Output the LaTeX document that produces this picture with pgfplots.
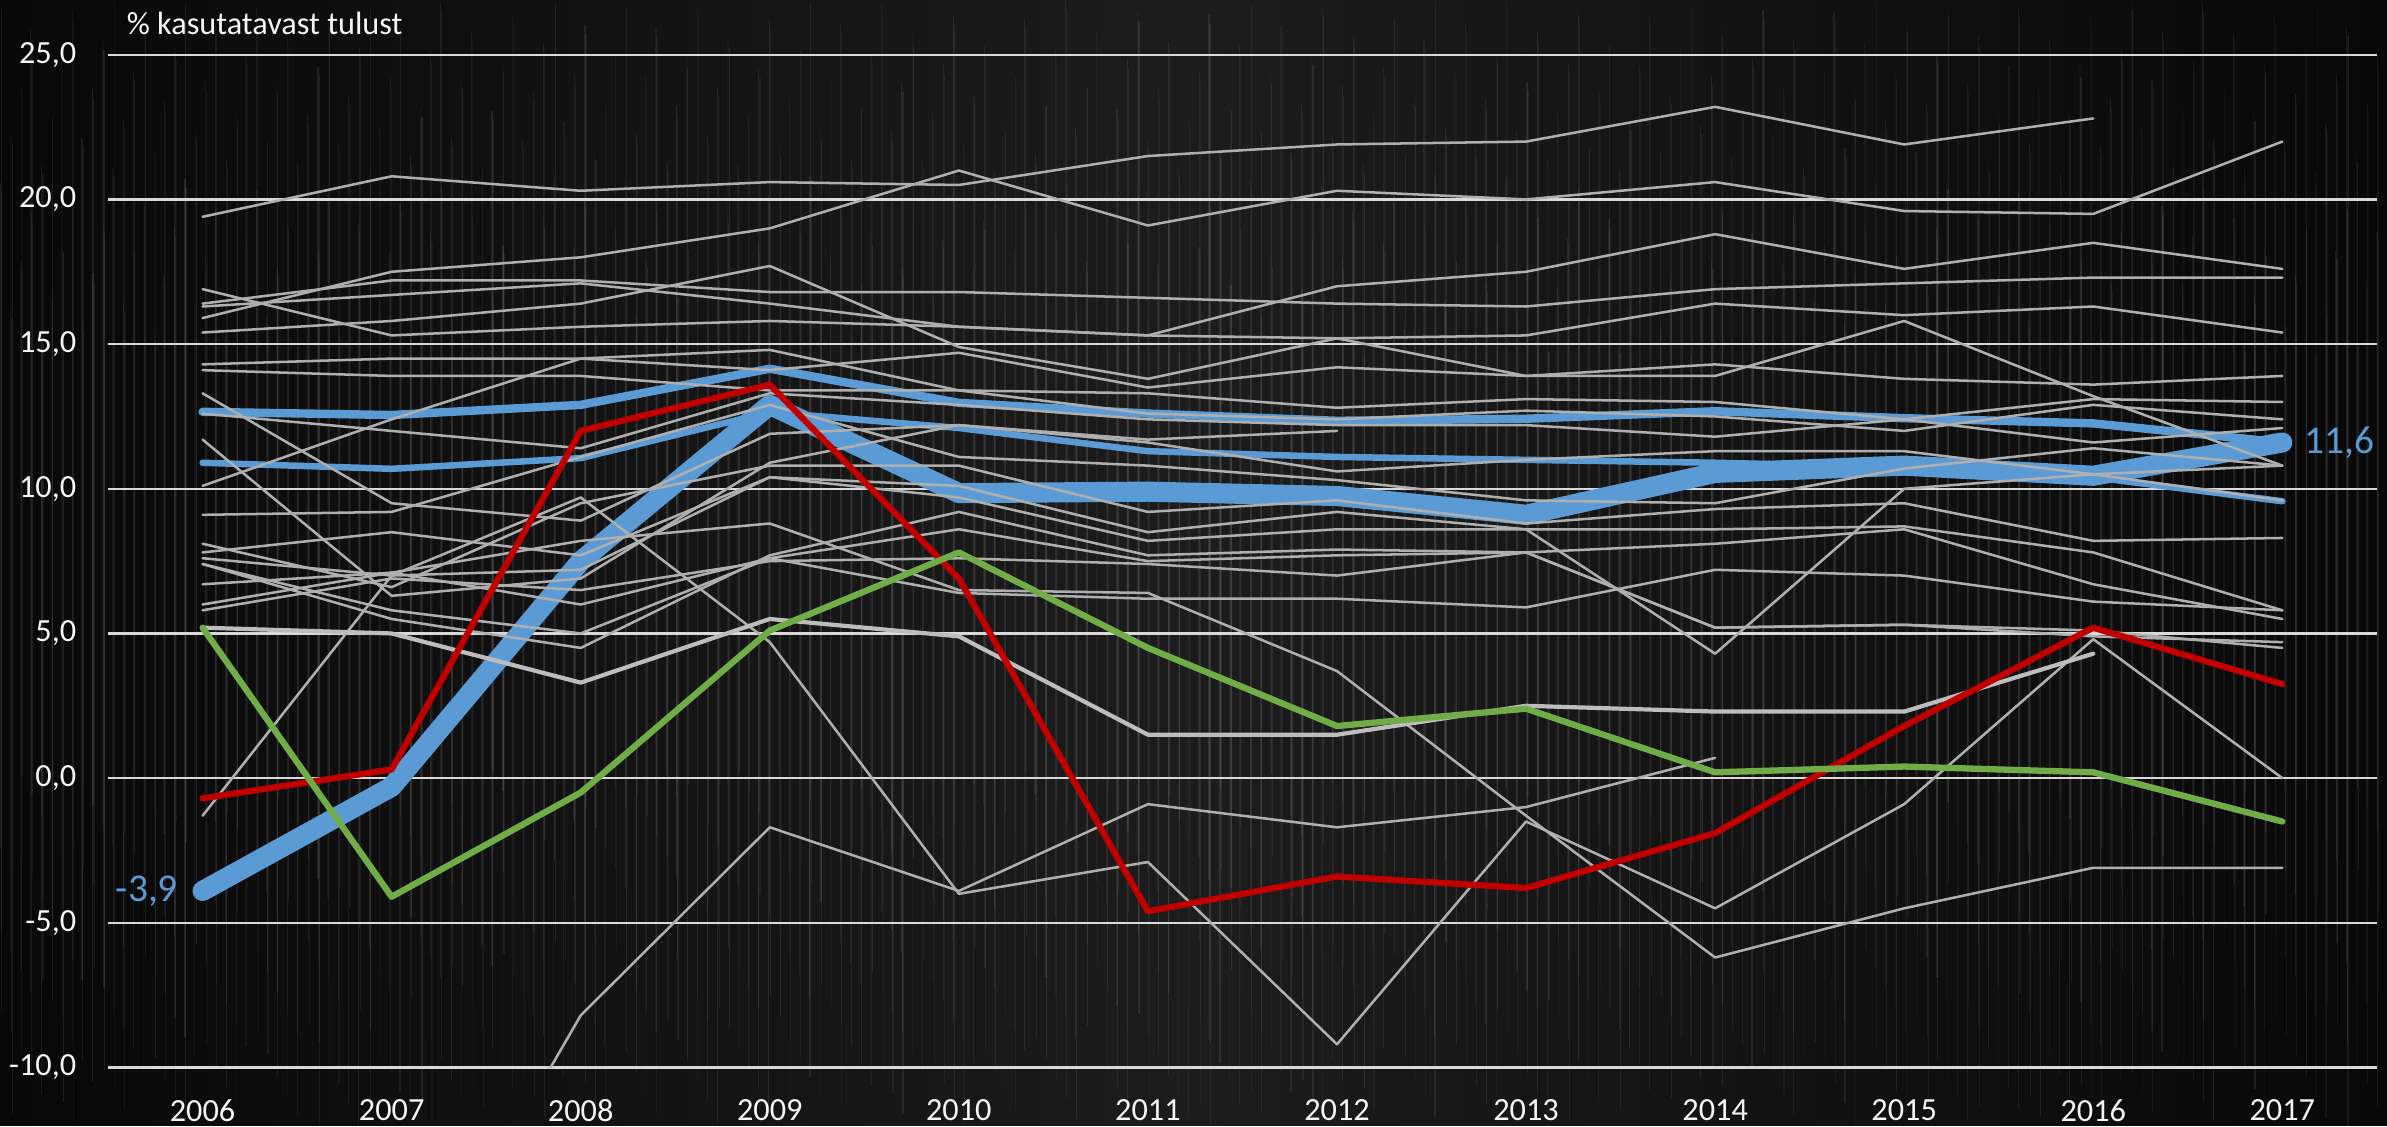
\documentclass[border=0pt]{standalone}
\usepackage{pgfplots}
\pgfplotsset{compat=1.18}
\usepackage{fontspec}
\setmainfont{Carlito}
\definecolor{bgA}{HTML}{080808}
\definecolor{bgB}{HTML}{1C1C1C}
\definecolor{gridc}{HTML}{D9D9D9}
\definecolor{gl}{HTML}{AFAFAF}
\definecolor{gl2}{HTML}{BDBDBD}
\definecolor{xblue}{HTML}{5B9BD5}
\definecolor{xred}{HTML}{C00000}
\definecolor{xgreen}{HTML}{70AD47}
\begin{document}
\begin{tikzpicture}
\shade[left color=bgA, right color=bgA, middle color=bgB] (-0.905,-0.49) rectangle (19.095,8.944);
\foreach \i in {1,...,900}{
  \pgfmathsetmacro\xx{-0.905+20*frac(\i*0.6180339)}
  \pgfmathsetmacro\op{0.02+0.07*frac(\i*0.7548777)}
  \pgfmathsetmacro\ya{-0.49+3*frac(\i*0.5698403)}
  \pgfmathsetmacro\yb{8.944-3*frac(\i*0.4142136)}
  \draw[white, opacity=\op, line width=0.28pt] (\xx,\ya) -- (\xx,\yb);
}
\useasboundingbox (-0.905,-0.49) rectangle (19.095,8.944);
\begin{axis}[at={(0,0)}, anchor=south west, scale only axis,
  width=19.01cm, height=8.485cm,
  xmin=2005.5, xmax=2017.5, ymin=-10, ymax=25,
  axis line style={draw=none}, major tick length=0pt,
  xtick={2006,2007,2008,2009,2010,2011,2012,2013,2014,2015,2016,2017},
  xticklabels={2006,2007,2008,2009,2010,2011,2012,2013,2014,2015,2016,2017},
  ytick={-10,-5,0,5,10,15,20,25},
  yticklabels={{-10,0},{-5,0},{0,0},{5,0},{10,0},{15,0},{20,0},{25,0}},
  ymajorgrids, grid style={draw=gridc, line width=0.6pt},
  tick label style={font=\fontsize{7.7}{9}\selectfont, text=white!96!black},
  xticklabel style={anchor=north, inner sep=0pt, yshift=-0.26cm},
  yticklabel style={anchor=east, inner sep=0pt, xshift=-0.26cm},
  unbounded coords=jump,
  every axis plot/.append style={line join=round, line cap=round},
]
% highlighted blue lines (drawn under the grey ones)
\addplot[xblue, line width=4.8pt] coordinates {(2006,-3.9)(2007,-0.3)(2008,7.5)(2009,12.9)(2010,9.85)(2011,9.9)(2012,9.75)(2013,9.1)(2014,10.55)(2015,10.8)(2016,10.45)(2017,11.6)};
\addplot[xblue, line width=2.0pt] coordinates {(2006,12.66)(2007,12.55)(2008,12.9)(2009,14.15)(2010,12.97)(2011,12.6)(2012,12.35)(2013,12.42)(2014,12.68)(2015,12.44)(2016,12.26)(2017,11.6)};
\addplot[xblue, line width=1.55pt] coordinates {(2006,10.9)(2007,10.69)(2008,11.06)(2009,12.65)(2010,12.1)(2011,11.3)(2012,11.1)(2013,11.0)(2014,10.9)(2015,10.75)(2016,10.4)(2017,9.57)};
% grey lines
\addplot[gl, line width=0.6pt] coordinates {(2006,19.4)(2007,20.8)(2008,20.3)(2009,20.6)(2010,20.5)(2011,21.5)(2012,21.9)(2013,22.0)(2014,23.2)(2015,21.9)(2016,22.8)};
\addplot[gl, line width=0.6pt] coordinates {(2006,15.9)(2007,17.5)(2008,18.0)(2009,19.0)(2010,21.0)(2011,19.1)(2012,20.3)(2013,20.0)(2014,20.6)(2015,19.6)(2016,19.5)(2017,22.0)};
\addplot[gl, line width=0.6pt] coordinates {(2006,16.4)(2007,17.2)(2008,17.2)(2009,16.8)(2010,16.8)(2011,16.6)(2012,16.4)(2013,16.3)(2014,16.9)(2015,17.1)(2016,17.3)(2017,17.3)};
\addplot[gl, line width=0.6pt] coordinates {(2006,16.9)(2007,15.3)(2008,15.6)(2009,15.8)(2010,15.6)(2011,15.3)(2012,17.0)(2013,17.5)(2014,18.8)(2015,17.6)(2016,18.5)(2017,17.6)};
\addplot[gl, line width=0.6pt] coordinates {(2006,16.3)(2007,16.7)(2008,17.1)(2009,16.4)(2010,15.6)(2011,15.3)(2012,15.2)(2013,15.3)(2014,16.4)(2015,16.0)(2016,16.3)(2017,15.4)};
\addplot[gl, line width=0.6pt] coordinates {(2006,15.4)(2007,15.8)(2008,16.4)(2009,17.7)(2010,14.9)(2011,13.8)(2012,15.2)(2013,13.9)(2014,13.9)(2015,15.8)(2016,13.2)(2017,10.8)};
\addplot[gl, line width=0.6pt] coordinates {(2006,14.3)(2007,14.5)(2008,14.5)(2009,14.1)(2010,14.7)(2011,13.5)(2012,14.2)(2013,13.9)(2014,14.3)(2015,13.8)(2016,13.6)(2017,13.9)};
\addplot[gl, line width=0.6pt] coordinates {(2006,14.1)(2007,13.9)(2008,13.9)(2009,13.4)(2010,13.4)(2011,13.3)(2012,12.8)(2013,13.1)(2014,13.0)(2015,12.4)(2016,13.1)(2017,13.0)};
\addplot[gl, line width=0.6pt] coordinates {(2006,10.1)(2007,12.4)(2008,14.5)(2009,14.8)(2010,13.4)(2011,12.6)(2012,12.4)(2013,12.7)(2014,12.5)(2015,12.0)(2016,12.9)(2017,12.4)};
\addplot[gl, line width=0.6pt] coordinates {(2006,12.6)(2007,12.0)(2008,11.4)(2009,13.3)(2010,12.9)(2011,12.4)(2012,12.2)(2013,12.2)(2014,11.8)(2015,12.4)(2016,11.6)(2017,12.1)};
\addplot[gl, line width=0.6pt] coordinates {(2006,13.3)(2007,9.5)(2008,8.9)(2009,11.9)(2010,12.2)(2011,11.7)(2012,12.0)};
\addplot[gl, line width=0.6pt] coordinates {(2006,11.7)(2007,6.3)(2008,6.9)(2009,10.9)(2010,12.2)(2011,11.6)(2012,10.6)(2013,11.0)(2014,11.3)(2015,11.3)(2016,10.5)(2017,9.6)};
\addplot[gl, line width=0.6pt] coordinates {(2006,9.1)(2007,9.2)(2008,11.1)(2009,12.9)(2010,11.1)(2011,10.8)(2012,10.3)(2013,9.6)(2014,9.5)(2015,10.7)(2016,11.4)(2017,10.8)};
\addplot[gl, line width=0.6pt] coordinates {(2006,8.1)(2007,6.6)(2008,9.5)(2009,10.8)(2010,10.8)(2011,9.2)(2012,9.6)(2013,8.8)(2014,9.3)(2015,9.5)(2016,8.2)(2017,8.3)};
\addplot[gl, line width=0.6pt] coordinates {(2006,7.8)(2007,8.5)(2008,7.7)(2009,10.4)(2010,10.1)(2011,8.5)(2012,9.2)(2013,8.6)(2014,8.6)(2015,8.7)(2016,7.8)(2017,5.8)};
\addplot[gl, line width=0.6pt] coordinates {(2006,7.6)(2007,7.0)(2008,7.2)(2009,10.4)(2010,9.7)(2011,8.2)(2012,8.6)(2013,8.6)(2014,4.3)(2015,10.0)(2016,10.5)(2017,10.8)};
\addplot[gl, line width=0.6pt] coordinates {(2006,7.4)(2007,5.5)(2008,4.5)(2009,7.7)(2010,9.2)(2011,7.7)(2012,7.9)(2013,7.8)(2014,8.1)(2015,8.6)(2016,6.7)(2017,5.5)};
\addplot[gl, line width=0.6pt] coordinates {(2006,7.4)(2007,5.8)(2008,5.0)(2009,7.6)(2010,8.6)(2011,7.5)(2012,7.7)(2013,7.8)(2014,5.2)(2015,5.3)(2016,5.1)(2017,4.5)};
\addplot[gl, line width=0.6pt] coordinates {(2006,6.7)(2007,7.1)(2008,8.2)(2009,8.8)(2010,6.5)(2011,6.4)(2012,3.7)(2013,-1.3)(2014,-6.2)(2015,-4.5)(2016,-3.1)(2017,-3.1)};
\addplot[gl, line width=0.6pt] coordinates {(2006,6.0)(2007,7.1)(2008,6.0)(2009,7.6)(2010,6.4)(2011,6.2)(2012,6.2)(2013,5.9)(2014,7.2)(2015,7.0)(2016,6.1)(2017,5.8)};
\addplot[gl, line width=0.6pt] coordinates {(2006,5.8)(2007,6.9)(2008,6.5)(2009,7.5)(2010,7.6)(2011,7.4)(2012,7.0)(2013,7.8)(2014,5.2)(2015,5.3)(2016,4.9)(2017,4.7)};
\addplot[gl, line width=0.6pt] coordinates {(2006,-1.3)(2007,7.0)(2008,9.7)(2009,4.7)(2010,-4.0)(2011,-2.9)(2012,-9.2)(2013,-1.5)(2014,-4.5)(2015,-0.9)(2016,4.8)(2017,0.0)};
\addplot[gl, line width=0.6pt] coordinates {(2007,-19.5)(2008,-8.2)(2009,-1.7)(2010,-3.9)(2011,-0.9)(2012,-1.7)(2013,-1.0)(2014,0.7)};
\addplot[gl2, line width=1.0pt] coordinates {(2006,5.2)(2007,5.0)(2008,3.3)(2009,5.5)(2010,4.9)(2011,1.5)(2012,1.5)(2013,2.5)(2014,2.3)(2015,2.3)(2016,4.3)};
% red and green
\addplot[xred, line width=1.5pt] coordinates {(2006,-0.7)(2007,0.3)(2008,12.0)(2009,13.6)(2010,6.9)(2011,-4.6)(2012,-3.4)(2013,-3.8)(2014,-1.9)(2015,1.8)(2016,5.2)(2017,3.25)};
\addplot[xgreen, line width=1.5pt] coordinates {(2006,5.2)(2007,-4.1)(2008,-0.5)(2009,5.1)(2010,7.8)(2011,4.5)(2012,1.8)(2013,2.4)(2014,0.2)(2015,0.4)(2016,0.2)(2017,-1.5)};
\coordinate (pA) at (axis cs:2006,-3.9);
\coordinate (pB) at (axis cs:2017,11.6);
\coordinate (tl) at (rel axis cs:0,1);
\end{axis}
\node[anchor=east, inner sep=0pt, text=xblue, font=\fontsize{9.4}{11}\selectfont] at ([xshift=-0.2cm]pA) {-3,9};
\node[anchor=west, inner sep=0pt, text=xblue, font=\fontsize{9.4}{11}\selectfont] at ([xshift=0.18cm]pB) {11,6};
\node[anchor=base west, inner sep=0pt, text=white!96!black, font=\fontsize{7.7}{9}\selectfont] at ([xshift=0.15cm, yshift=0.174cm]tl) {\% kasutatavast tulust};
\end{tikzpicture}
\end{document}
